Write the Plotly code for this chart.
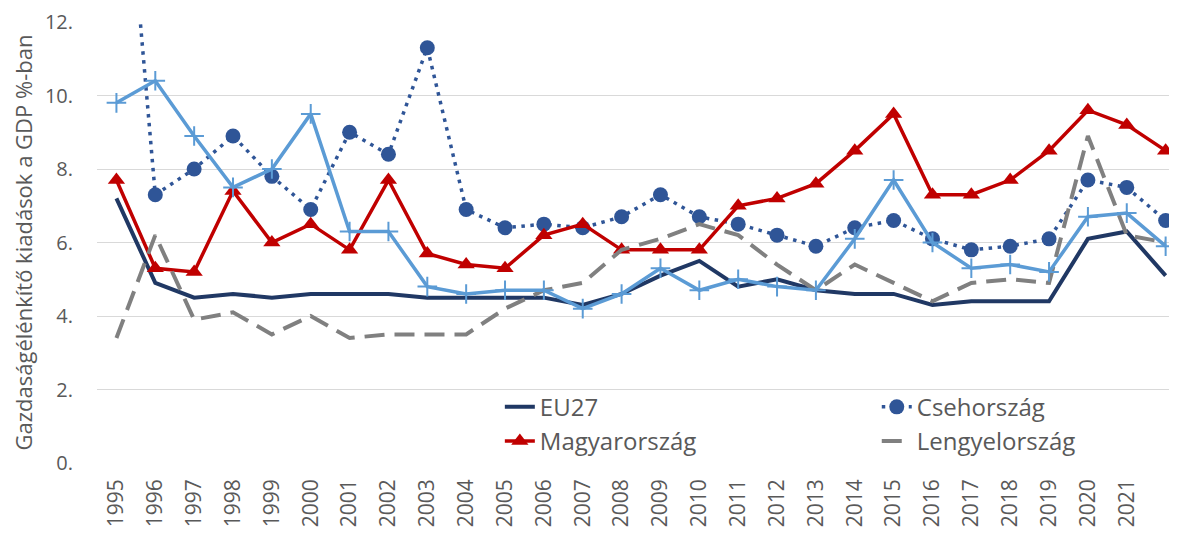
import plotly.graph_objects as go

years = list(range(1995, 2023))
x_tick_labels = [str(y) for y in range(1995, 2022)] + [""]
y_tick_values = [0, 2, 4, 6, 8, 10, 12]
y_tick_labels = ["0.", "2.", "4.", "6.", "8.", "10.", "12."]

eu27 = [7.2, 4.9, 4.5, 4.6, 4.5, 4.6, 4.6, 4.6, 4.5, 4.5, 4.5, 4.5, 4.3, 4.6,
        5.1, 5.5, 4.8, 5.0, 4.7, 4.6, 4.6, 4.3, 4.4, 4.4, 4.4, 6.1, 6.3, 5.1]
csehorszag = [19.5, 7.3, 8.0, 8.9, 7.8, 6.9, 9.0, 8.4, 11.3, 6.9, 6.4, 6.5, 6.4, 6.7,
              7.3, 6.7, 6.5, 6.2, 5.9, 6.4, 6.6, 6.1, 5.8, 5.9, 6.1, 7.7, 7.5, 6.6]
magyarorszag = [7.7, 5.3, 5.2, 7.4, 6.0, 6.5, 5.8, 7.7, 5.7, 5.4, 5.3, 6.2, 6.5, 5.8,
                5.8, 5.8, 7.0, 7.2, 7.6, 8.5, 9.5, 7.3, 7.3, 7.7, 8.5, 9.6, 9.2, 8.5]
lengyelorszag = [3.4, 6.2, 3.9, 4.1, 3.5, 4.0, 3.4, 3.5, 3.5, 3.5, 4.2, 4.7, 4.9, 5.8,
                 6.1, 6.5, 6.2, 5.4, 4.7, 5.4, 4.9, 4.4, 4.9, 5.0, 4.9, 8.9, 6.2, 6.0]
szlovakia = [9.8, 10.4, 8.9, 7.5, 8.0, 9.5, 6.3, 6.3, 4.8, 4.6, 4.7, 4.7, 4.2, 4.6,
             5.3, 4.7, 5.0, 4.8, 4.7, 6.1, 7.7, 6.0, 5.3, 5.4, 5.2, 6.7, 6.8, 5.9]

FONT = "Open Sans"
GREY = "#595959"

fig = go.Figure()
fig.add_trace(go.Scatter(x=years, y=eu27, name="EU27", mode="lines",
                         legend="legend",
                         line=dict(color="#203864", width=4)))
fig.add_trace(go.Scatter(x=years, y=csehorszag, name="Csehország", mode="lines+markers",
                         legend="legend2",
                         line=dict(color="#2F5597", width=3.5, dash="3.5px,5.5px"),
                         marker=dict(symbol="circle", size=15, color="#2F5597")))
fig.add_trace(go.Scatter(x=years, y=magyarorszag, name="Magyarország", mode="lines+markers",
                         legend="legend",
                         line=dict(color="#C00000", width=3.5),
                         marker=dict(symbol="triangle-up", size=15, color="#C00000")))
fig.add_trace(go.Scatter(x=years, y=lengyelorszag, name="Lengyelország", mode="lines",
                         legend="legend2",
                         line=dict(color="#808080", width=4, dash="20px,10px")))
fig.add_trace(go.Scatter(x=years, y=szlovakia, name="Szlovákia", mode="lines+markers",
                         showlegend=False,
                         line=dict(color="#5B9BD5", width=3.5),
                         marker=dict(symbol="cross-thin", size=14,
                                     line=dict(color="#5B9BD5", width=2))))

legend_common = dict(orientation="v", yanchor="top", xanchor="left",
                     font=dict(size=24, color=GREY, family=FONT),
                     bgcolor="rgba(0,0,0,0)", tracegroupgap=0)

# the page body has an 8px default margin; the figure is sized to compensate
fig.update_layout(
    width=1169, height=530,
    margin=dict(l=89, r=0, t=10, b=75),
    paper_bgcolor="white", plot_bgcolor="white",
    font=dict(family=FONT, color=GREY),
    showlegend=True,
    legend=dict(x=0.373, y=0.1775, **legend_common),
    legend2=dict(x=0.722, y=0.1775, **legend_common),
)
fig.update_xaxes(range=[1994.5, 2022.5 - 8 / 38.57], tickmode="array", tickvals=years,
                 ticktext=x_tick_labels, tickangle=-90, showgrid=False,
                 showline=False, zeroline=False, ticks="",
                 ticklabelstandoff=11, ticklabeloverflow="allow",
                 tickfont=dict(size=21, color=GREY, family=FONT))
fig.update_yaxes(range=[0, 12.0001], tickmode="array", tickvals=y_tick_values,
                 ticktext=y_tick_labels, showgrid=True, gridcolor="#D9D9D9",
                 gridwidth=1, zeroline=False, showline=False, ticks="",
                 ticklabelstandoff=23, ticklabeloverflow="allow",
                 tickfont=dict(size=20, color=GREY, family=FONT),
                 title=dict(text="Gazdaságélénkítő kiadások a GDP %-ban",
                            font=dict(size=22, color=GREY, family=FONT),
                            standoff=12))

fig.write_html("out.html")
